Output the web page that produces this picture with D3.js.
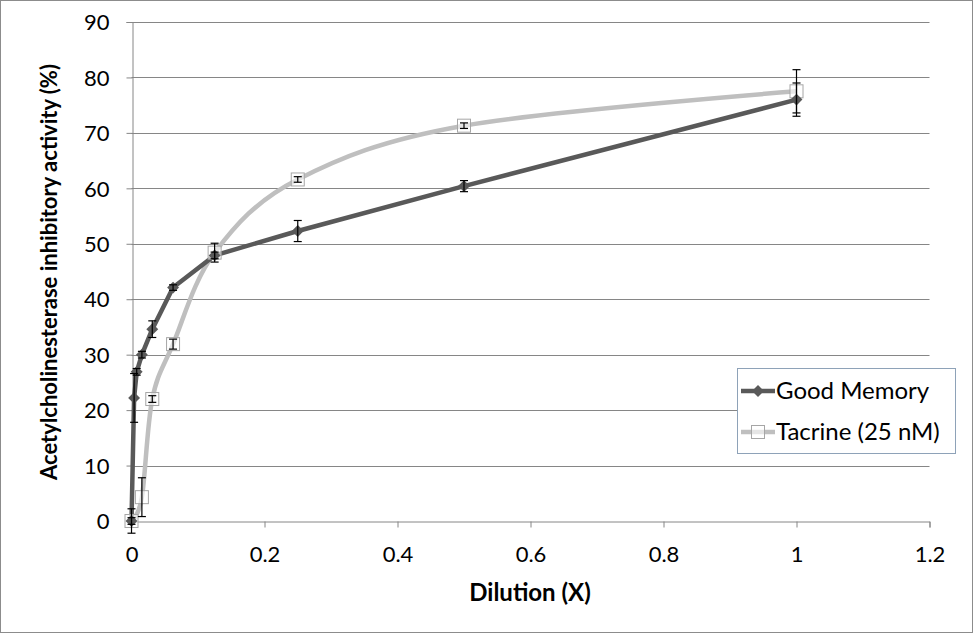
<!DOCTYPE html>
<html><head><meta charset="utf-8">
<script src="https://cdn.jsdelivr.net/npm/d3@7"></script>
<style>body{margin:0;background:#fff}svg{display:block}</style>
</head><body><svg id="c" width="978" height="638"></svg>
<script>
const dilutions = [0, 1/256, 1/128, 1/64, 1/32, 1/16, 1/8, 1/4, 1/2, 1];
const goodMemory = [0, 22.2, 26.9, 30.0, 34.6, 42.1, 47.9, 52.3, 60.4, 76.0];
const goodMemoryErr = [2.2, 4.4, 0.6, 0.6, 1.5, 0.5, 0.6, 1.9, 1.0, 3.0];
const tacrineX = [0, 1/64, 1/32, 1/16, 1/8, 1/4, 1/2, 1];
const tacrine = [0, 4.3, 22.0, 31.9, 48.4, 61.6, 71.3, 77.5];
const tacrineErr = [0.6, 3.5, 0.6, 0.9, 1.7, 0.5, 0.5, 3.9];
const xTicks = [0, 0.2, 0.4, 0.6, 0.8, 1, 1.2];
const yTicks = [0, 10, 20, 30, 40, 50, 60, 70, 80, 90];
const seriesNames = ["Good Memory", "Tacrine (25 nM)"];

const svg = d3.select("#c");
const font = "Lato, 'Open Sans', sans-serif";
svg.append("rect").attr("x",0.5).attr("y",0.5).attr("width",972).attr("height",632)
  .attr("fill","#fff").attr("stroke","#8c8c8c");

const x = d3.scaleLinear().domain([0,1.2]).range([131.5,929.5]);
const y = d3.scaleLinear().domain([0,90]).range([521,22]);

// grid
svg.append("g").selectAll("line").data(yTicks.filter(d=>d>0)).join("line")
  .attr("x1",x(0)).attr("x2",x(1.2)).attr("y1",d=>Math.round(y(d))+0.5).attr("y2",d=>Math.round(y(d))+0.5)
  .attr("stroke","#868686").attr("stroke-width",1);

// axes
const xAxis = svg.append("g").attr("transform",`translate(0,${Math.round(y(0))+0.5})`)
  .call(d3.axisBottom(x).tickValues(xTicks).tickFormat(d3.format("")).tickSize(6).tickPadding(19));
const yAxis = svg.append("g").attr("transform",`translate(${Math.round(x(0))+0.5},0)`)
  .call(d3.axisLeft(y).tickValues(yTicks).tickSize(6).tickPadding(17));
[xAxis,yAxis].forEach(g=>{
  g.select(".domain").attr("stroke","#868686");
  g.selectAll(".tick line").attr("stroke","#868686");
  g.selectAll("text").attr("font-family",font).attr("font-size",22).attr("fill","#000");
});
yAxis.selectAll("text").attr("dy","0.35em");

// titles
svg.append("text").attr("x",530).attr("y",601).attr("text-anchor","middle")
  .attr("font-family",font).attr("font-weight","bold").attr("font-size",24).text("Dilution (X)");
svg.append("text").attr("transform","translate(57,272) rotate(-90)").attr("text-anchor","middle")
  .attr("font-family",font).attr("font-weight","bold").attr("font-size",22)
  .text("Acetylcholinesterase inhibitory activity (%)");

const gmData = dilutions.map((d,i)=>({x:d,y:goodMemory[i],e:goodMemoryErr[i]}));
const taData = tacrineX.map((d,i)=>({x:d,y:tacrine[i],e:tacrineErr[i]}));

const gmColor = "#595959", taColor = "#bfbfbf";

// tacrine line (smoothed)
svg.append("path").datum(taData)
  .attr("d", d3.line().x(d=>x(d.x)).y(d=>y(d.y)).curve(d3.curveCardinal.tension(0)))
  .attr("fill","none").attr("stroke",taColor).attr("stroke-width",4.5).attr("stroke-linejoin","round");
// good memory line
svg.append("path").datum(gmData)
  .attr("d", d3.line().x(d=>x(d.x)).y(d=>y(d.y)).curve(d3.curveLinear))
  .attr("fill","none").attr("stroke",gmColor).attr("stroke-width",4.5).attr("stroke-linejoin","round");

// markers
svg.append("g").selectAll("rect").data(taData).join("rect")
  .attr("x",d=>x(d.x)-6.5).attr("y",d=>y(d.y)-6.5).attr("width",13).attr("height",13)
  .attr("fill","#fff").attr("fill-opacity",0.6).attr("stroke","#a6a6a6").attr("stroke-width",1);
svg.append("g").selectAll("path").data(gmData).join("path")
  .attr("transform",d=>`translate(${x(d.x)},${y(d.y)})`)
  .attr("d",d3.symbol(d3.symbolDiamond2,90)).attr("fill",gmColor);

// error bars
function errBars(data){
  const g = svg.append("g").attr("stroke","#000").attr("stroke-width",1.2);
  data.forEach(d=>{
    const cx = x(d.x), t = y(d.y+d.e), b = y(d.y-d.e);
    g.append("line").attr("x1",cx).attr("x2",cx).attr("y1",t).attr("y2",b);
    g.append("line").attr("x1",cx-4).attr("x2",cx+4).attr("y1",t).attr("y2",t);
    g.append("line").attr("x1",cx-4).attr("x2",cx+4).attr("y1",b).attr("y2",b);
  });
}
errBars(gmData); errBars(taData);

// legend
const lg = svg.append("g");
lg.append("rect").attr("x",737.5).attr("y",368.5).attr("width",218).attr("height",85)
  .attr("fill","#fff").attr("stroke","#8ea2b8");
[0,1].forEach(i=>{
  const cy = 391 + i*41;
  lg.append("line").attr("x1",741).attr("x2",775).attr("y1",cy).attr("y2",cy)
    .attr("stroke",i?taColor:gmColor).attr("stroke-width",4.5);
  if(i===0){
    lg.append("path").attr("transform",`translate(758,${cy})`).attr("d",d3.symbol(d3.symbolDiamond2,90)).attr("fill",gmColor);
  } else {
    lg.append("rect").attr("x",751.5).attr("y",cy-6.5).attr("width",13).attr("height",13)
      .attr("fill","#fff").attr("fill-opacity",0.6).attr("stroke","#a6a6a6");
  }
  lg.append("text").attr("x",776).attr("y",cy).attr("dy","0.35em")
    .attr("font-family",font).attr("font-size",24).text(seriesNames[i]);
});
</script></body></html>
